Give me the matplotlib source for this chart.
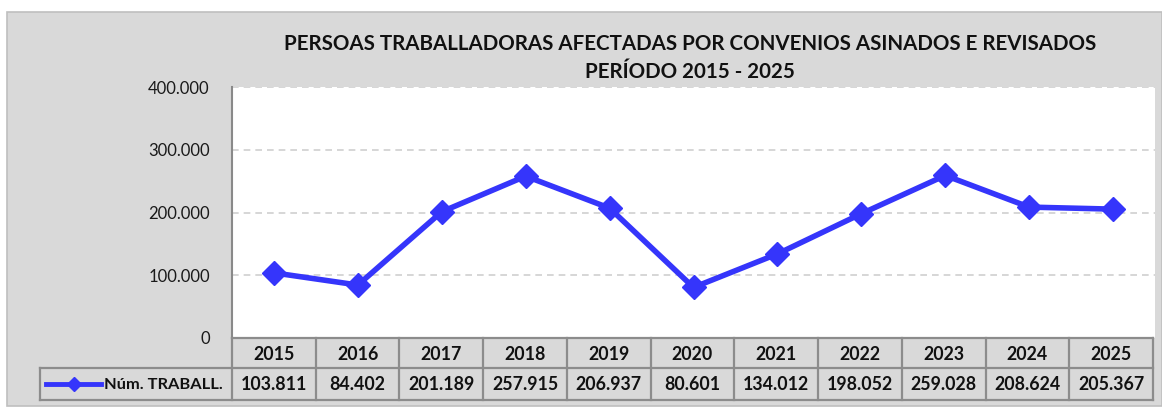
import matplotlib
matplotlib.use("Agg")
import matplotlib.pyplot as plt
from matplotlib.patches import Rectangle
from matplotlib.lines import Line2D

years = ["2015", "2016", "2017", "2018", "2019", "2020", "2021", "2022", "2023", "2024", "2025"]
values = [103811, 84402, 201189, 257915, 206937, 80601, 134012, 198052, 259028, 208624, 205367]
value_labels = ["103.811", "84.402", "201.189", "257.915", "206.937", "80.601", "134.012",
                "198.052", "259.028", "208.624", "205.367"]
yticks = [0, 100000, 200000, 300000, 400000]
ytick_labels = ["0", "100.000", "200.000", "300.000", "400.000"]
series_name = "Núm. TRABALL."
title = "PERSOAS TRABALLADORAS AFECTADAS POR CONVENIOS ASINADOS E REVISADOS\nPERÍODO 2015 - 2025"

plt.rcParams['font.family'] = ['Lato', 'DejaVu Sans']

W, H = 1162, 412
fig = plt.figure(figsize=(W / 100, H / 100), dpi=100)
fig.patch.set_facecolor('white')

def fx(px):
    return px / W

def fy(py):
    return 1 - py / H

# outer gray panel
fig.patches.append(Rectangle((fx(7), fy(406)), fx(1162) - fx(7), fy(12) - fy(406),
                             transform=fig.transFigure, facecolor='#d9d9d9',
                             edgecolor='#bfbfbf', linewidth=1.2, zorder=-10))

LINE_COLOR = '#3535fb'

# plot axes
x0, x1, ytop, ybot = 232, 1155, 87, 338
ax = fig.add_axes([fx(x0), fy(ybot), fx(x1) - fx(x0), fy(ytop) - fy(ybot)])
ax.set_zorder(1)
ax.set_facecolor('white')
xs = list(range(len(years)))
ax.plot(xs, values, color=LINE_COLOR, linewidth=4, marker='D', markersize=12,
        markeredgecolor=LINE_COLOR, markerfacecolor=LINE_COLOR, zorder=3, clip_on=False)
ax.set_xlim(-0.5, len(years) - 0.5)
ax.set_ylim(0, 400000)
ax.set_yticks(yticks)
ax.set_yticklabels(ytick_labels, fontsize=12)
ax.set_xticks([])
for y in yticks[1:]:
    ax.axhline(y, color='#d0d0d0', linestyle=(0, (4, 3)), linewidth=1.2, zorder=1)
for s in ['top', 'right', 'bottom']:
    ax.spines[s].set_visible(False)
ax.spines['left'].set_color('#898989')
ax.spines['left'].set_linewidth(1.5)
ax.tick_params(axis='y', length=0, pad=16, colors='#1a1a1a')

# title
fig.text(fx(690), fy(44), title.split("\n")[0], ha='center', va='center',
         fontsize=14.8, fontweight='bold', color='#111111', zorder=5)
fig.text(fx(690), fy(72), title.split("\n")[1], ha='center', va='center',
         fontsize=14.8, fontweight='bold', color='#111111', zorder=5)

# table
tax = fig.add_axes([0, 0, 1, 1])
tax.set_zorder(2)
tax.set_xlim(0, W)
tax.set_ylim(H, 0)
tax.axis('off')
tx0, tx1 = 232, 1153
row1_top, row1_bot, row2_bot = 338, 368, 400
ncol = len(years)
cw = (tx1 - tx0) / ncol
edge = '#8c8c8c'
lw = 1.6
tax.plot([tx0, tx1], [row1_top, row1_top], color=edge, lw=lw)
tax.plot([40, tx1], [row1_bot, row1_bot], color=edge, lw=lw)
tax.plot([40, tx1], [row2_bot, row2_bot], color=edge, lw=lw)
tax.plot([40, 40], [row1_bot, row2_bot], color=edge, lw=lw)
for i in range(ncol + 1):
    xv = tx0 + i * cw
    tax.plot([xv, xv], [row1_top, row2_bot], color=edge, lw=lw)
FS = 12.8
for i, (yr, lab) in enumerate(zip(years, value_labels)):
    cx = tx0 + (i + 0.5) * cw
    tax.text(cx, (row1_top + row1_bot) / 2 + 1, yr, ha='center', va='center',
             fontsize=FS, fontweight='bold', color='#111111')
    tax.text(cx, (row1_bot + row2_bot) / 2 + 1, lab, ha='center', va='center',
             fontsize=FS, fontweight='bold', color='#111111')
ly = (row1_bot + row2_bot) / 2
tax.add_line(Line2D([46, 101], [ly, ly], color=LINE_COLOR, lw=3.5))
tax.add_line(Line2D([74], [ly], color=LINE_COLOR, marker='D', markersize=7))
tax.text(104, ly + 1, series_name, ha='left', va='center', fontsize=11.8,
         fontweight='bold', color='#111111')

fig.savefig('out.png', dpi=100, facecolor=fig.get_facecolor())
